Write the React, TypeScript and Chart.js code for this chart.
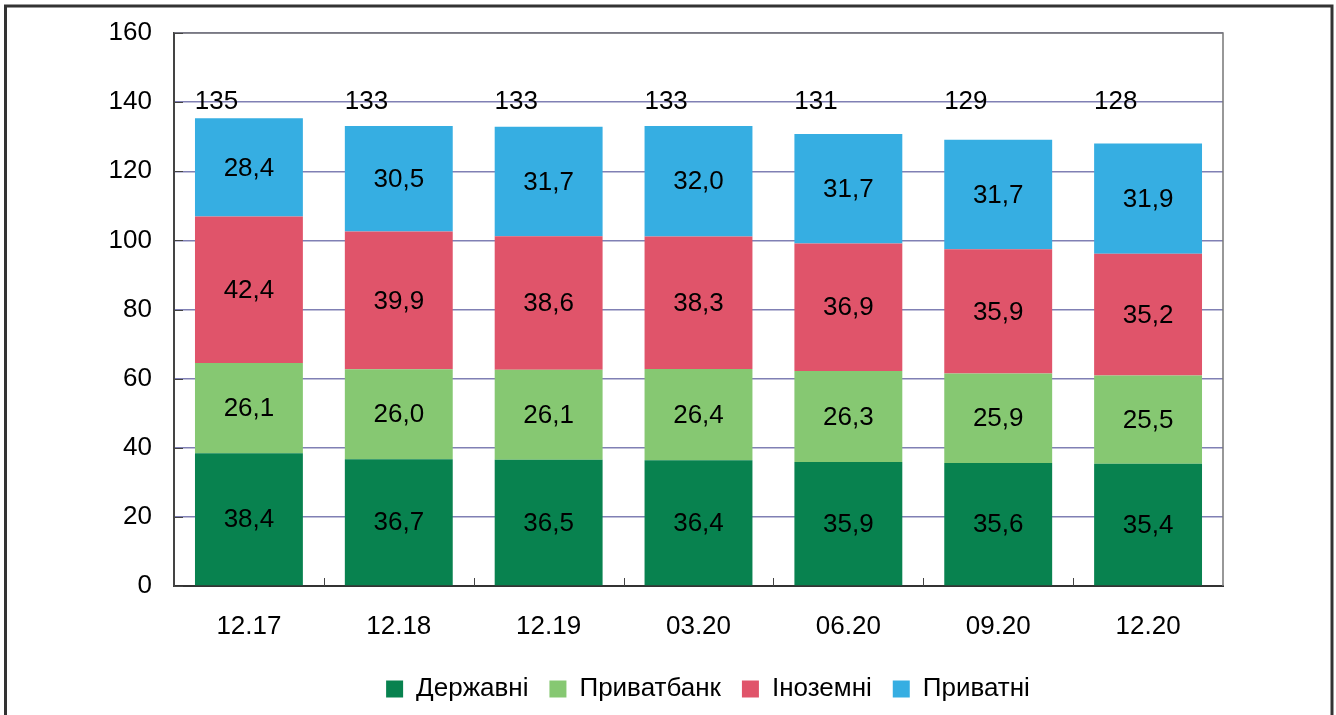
import React, { useEffect, useRef } from 'react';
import { Chart, registerables } from 'chart.js';

Chart.register(...registerables);

const categories = ['12.17', '12.18', '12.19', '03.20', '06.20', '09.20', '12.20'];
const derzhavni = [38.4, 36.7, 36.5, 36.4, 35.9, 35.6, 35.4];
const pryvatbank = [26.1, 26.0, 26.1, 26.4, 26.3, 25.9, 25.5];
const inozemni = [42.4, 39.9, 38.6, 38.3, 36.9, 35.9, 35.2];
const pryvatni = [28.4, 30.5, 31.7, 32.0, 31.7, 31.7, 31.9];
const seriesNames = ['Державні', 'Приватбанк', 'Іноземні', 'Приватні'];
const seriesColors = ['#08824F', '#86C872', '#E0546A', '#36AEE2'];
const yMin = 0;
const yMax = 160;
const yStep = 20;
const totalLabelLevel = 140;

const FONT = "'Liberation Sans', Arial, sans-serif";
const FS = 26;

const fmt = (v: number) => v.toFixed(1).replace('.', ',');

const chartPlugin = {
  id: 'customDraw',
  beforeDraw(chart: any) {
    const ctx = chart.ctx;
    ctx.save();
    ctx.fillStyle = '#ffffff';
    ctx.fillRect(0, 0, chart.width, chart.height);
    ctx.strokeStyle = '#333333';
    ctx.lineWidth = 3;
    ctx.strokeRect(5.5, 6, 1326.5, 800);
    ctx.restore();
  },
  afterDatasetsDraw(chart: any) {
    const ctx = chart.ctx;
    ctx.save();
    ctx.fillStyle = '#000';
    ctx.font = `${FS}px ${FONT}`;
    ctx.textAlign = 'center';
    ctx.textBaseline = 'middle';
    chart.data.datasets.forEach((ds: any, di: number) => {
      const meta = chart.getDatasetMeta(di);
      meta.data.forEach((el: any, i: number) => {
        const v = ds.data[i];
        ctx.fillText(fmt(v), el.x, (el.y + el.base) / 2 + 1);
      });
    });
    // totals
    const yScale = chart.scales.y;
    const meta0 = chart.getDatasetMeta(0);
    meta0.data.forEach((el: any, i: number) => {
      let sum = 0;
      chart.data.datasets.forEach((ds: any) => (sum += ds.data[i]));
      const w = el.width;
      ctx.fillText(String(Math.round(sum)), el.x - w * 0.3, yScale.getPixelForValue(totalLabelLevel));
    });
    ctx.restore();
  },
  afterDraw(chart: any) {
    const ctx = chart.ctx;
    const a = chart.chartArea;
    ctx.save();
    ctx.strokeStyle = '#777';
    ctx.lineWidth = 1.5;
    ctx.beginPath();
    ctx.moveTo(a.left, a.top);
    ctx.lineTo(a.right, a.top);
    ctx.lineTo(a.right, a.bottom);
    ctx.stroke();
    // y tick marks inside
    ctx.strokeStyle = '#444';
    ctx.lineWidth = 1;
    const ys = chart.scales.y;
    for (let v = yMin; v <= yMax; v += yStep) {
      const py = Math.round(ys.getPixelForValue(v)) + 0.5;
      ctx.beginPath();
      ctx.moveTo(a.left, py);
      ctx.lineTo(a.left + 9, py);
      ctx.stroke();
    }
    // x category boundary ticks
    const n = categories.length;
    const cw = (a.right - a.left) / n;
    for (let i = 1; i < n; i++) {
      const px = Math.round(a.left + cw * i) + 0.5;
      ctx.beginPath();
      ctx.moveTo(px, a.bottom);
      ctx.lineTo(px, a.bottom - 8);
      ctx.stroke();
    }
    ctx.restore();
  },
};

export default function App() {
  const ref = useRef<HTMLCanvasElement | null>(null);
  useEffect(() => {
    if (!ref.current) return;
    const seriesData = [derzhavni, pryvatbank, inozemni, pryvatni];
    const chart = new Chart(ref.current, {
      type: 'bar',
      data: {
        labels: categories,
        datasets: seriesData.map((d, i) => ({
          label: seriesNames[i],
          data: d,
          backgroundColor: seriesColors[i],
          borderWidth: 0,
          categoryPercentage: 1,
          barPercentage: 0.72,
        })),
      },
      options: {
        responsive: false,
        animation: false,
        devicePixelRatio: 1,
        layout: { padding: { left: 80, right: 0, top: 33, bottom: 3 } },
        plugins: {
          tooltip: { enabled: false },
          legend: {
            position: 'bottom',
            labels: {
              boxWidth: 17,
              boxHeight: 17,
              padding: 21,
              color: '#000',
              font: { family: FONT, size: FS },
            },
          },
        },
        scales: {
          x: {
            stacked: true,
            grid: { display: false, drawTicks: false },
            border: { display: true, color: '#333', width: 2 },
            ticks: { color: '#000', font: { family: FONT, size: FS }, padding: 25 },
            afterFit: (s: any) => {
              s.height = 69;
            },
          },
          y: {
            stacked: true,
            min: yMin,
            max: yMax,
            grid: { color: '#8080b4', lineWidth: 1.5, drawTicks: false },
            border: { display: true, color: '#444', width: 2 },
            ticks: { stepSize: yStep, color: '#000', font: { family: FONT, size: FS }, padding: 22 },
            afterFit: (s: any) => {
              s.width = 94;
              s.paddingTop = 10;
              s.paddingBottom = 10;
            },
          },
          yR: {
            position: 'right',
            display: true,
            min: 0,
            max: 1,
            grid: { display: false, drawTicks: false },
            border: { display: false },
            ticks: { display: false },
            afterFit: (s: any) => {
              s.width = 113;
              s.paddingTop = 0;
              s.paddingBottom = 0;
            },
          },
        },
      } as any,
      plugins: [chartPlugin],
    });
    return () => chart.destroy();
  }, []);
  return (
    <div style={{ position: 'absolute', left: 0, top: 0, width: 1336, height: 715, overflow: 'hidden' }}>
      <canvas ref={ref} width={1336} height={715} style={{ display: 'block' }} />
    </div>
  );
}
